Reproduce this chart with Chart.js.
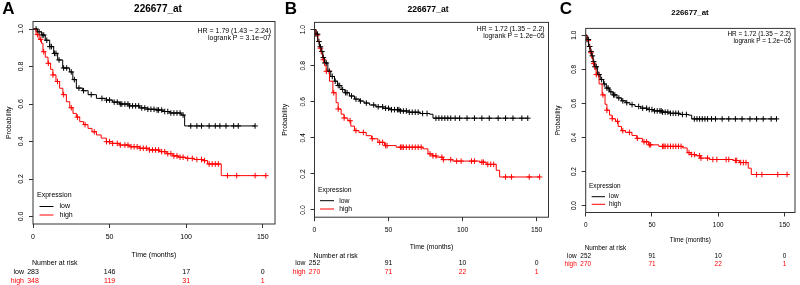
<!DOCTYPE html>
<html lang="en">
<head>
    <meta charset="UTF-8">
    <title>226677_at survival</title>
    <script src="https://cdn.jsdelivr.net/npm/chart.js"></script>
    <style>
        body { margin: 0; background: #fff; }
        #wrap { position: relative; width: 800px; height: 285px; }
        #wrap canvas { position: absolute; left: 0; top: 0; }
    </style>
</head>
<body>
<div id="wrap">
    <canvas id="chartA" width="800" height="285"></canvas>
    <canvas id="chartB" width="800" height="285"></canvas>
    <canvas id="chartC" width="800" height="285"></canvas>
</div>

<script>
    // axis ticks
    var xTicks = [0, 50, 100, 150];
    var yTicks = [0, 0.2, 0.4, 0.6, 0.8, 1.0];

    // panel A - low expression (time in months, survival after the step)
    var timeLowA = [0, 3, 5.5, 8, 10.9, 13.5, 16.1, 19.4, 23.9, 26, 28.3, 32.4, 36, 41.4, 47.9, 52, 56.6, 63, 69.6, 75, 80.5, 85, 89.3, 96.8, 99, 145];
    var survLowA = [1.0, 0.985, 0.968, 0.94, 0.906, 0.87, 0.835, 0.792, 0.771, 0.73, 0.685, 0.671, 0.65, 0.63, 0.621, 0.61, 0.6, 0.59, 0.579, 0.572, 0.568, 0.56, 0.552, 0.541, 0.483, 0.483];
    var censLowA = [2, 4, 6, 7, 9, 11, 12, 14, 15, 17, 20, 22, 25, 27, 30, 33, 38, 45, 48, 50, 53, 55, 57, 58, 60, 62, 63, 65, 67, 69, 71, 73, 75, 77, 79, 81, 82, 84, 86, 88, 90, 92, 94, 96, 98, 103, 107, 110, 115, 119, 122, 126, 131, 134, 145];

    // panel A - high expression
    var timeHighA = [0, 2, 4, 5.5, 6.5, 8, 9.8, 11.5, 13, 15, 17.4, 19.5, 21.8, 24, 26.1, 28.3, 30.5, 33, 35.9, 38.5, 41.4, 44.5, 47.9, 52, 56.6, 63, 69.6, 76, 82.6, 87, 91.3, 95, 100, 105, 110.9, 114, 122.9, 152];
    var survHighA = [1.0, 0.97, 0.945, 0.924, 0.879, 0.85, 0.817, 0.785, 0.755, 0.72, 0.684, 0.65, 0.612, 0.58, 0.55, 0.53, 0.506, 0.49, 0.47, 0.452, 0.435, 0.418, 0.399, 0.39, 0.381, 0.372, 0.364, 0.355, 0.346, 0.335, 0.323, 0.316, 0.31, 0.304, 0.298, 0.28, 0.218, 0.218];
    var censHighA = [3, 5, 7, 10, 13, 16, 20, 25, 29, 34, 40, 48, 50, 52, 55, 57, 60, 62, 64, 66, 68, 70, 72, 74, 76, 78, 80, 82, 84, 86, 88, 90, 92, 94, 96, 98, 101, 104, 107, 110, 112, 115, 117, 119, 121, 127, 133, 145, 152];

    // panels B and C share the same cohort
    var timeLowB = [0, 1, 2.2, 3.3, 4.5, 5.6, 6.8, 9, 11, 13.5, 15.5, 18, 20.5, 23.6, 27, 30.4, 33.5, 37.2, 41.5, 46.2, 51, 57.4, 64, 71, 77.7, 80, 144];
    var survLowB = [1.0, 0.975, 0.934, 0.905, 0.879, 0.845, 0.815, 0.769, 0.74, 0.714, 0.69, 0.668, 0.65, 0.632, 0.615, 0.604, 0.593, 0.582, 0.572, 0.564, 0.556, 0.549, 0.542, 0.535, 0.531, 0.509, 0.509];
    var censLowB = [1, 2, 3, 4, 5, 6, 7, 8, 10, 12, 14, 16, 17, 19, 21, 22, 25, 28, 31, 35, 40, 43, 46, 48, 50, 52, 54, 56, 57, 58, 60, 62, 64, 66, 68, 70, 73, 76, 82, 84, 86, 88, 90, 92, 95, 98, 103, 108, 113, 118, 124, 129, 134, 140, 144];

    var timeHighB = [0, 1.1, 2.2, 3.4, 4.5, 5.6, 6.8, 7.9, 10.1, 12.4, 14.6, 16, 18, 20, 22.5, 24.5, 27, 30, 34.9, 38.5, 42.8, 47.3, 55.2, 73.2, 76.6, 79.5, 82.2, 86.7, 93.4, 111.5, 116, 122.7, 125, 152];
    var survHighB = [1.0, 0.97, 0.935, 0.897, 0.865, 0.833, 0.8, 0.769, 0.714, 0.65, 0.595, 0.56, 0.531, 0.51, 0.495, 0.465, 0.44, 0.43, 0.412, 0.395, 0.375, 0.357, 0.348, 0.339, 0.311, 0.3, 0.293, 0.279, 0.271, 0.265, 0.253, 0.22, 0.183, 0.183];
    var censHighB = [2, 4, 6, 8, 10, 13, 16, 20, 24, 28, 33, 39, 44, 46, 48, 49, 58, 59, 60, 62, 64, 66, 68, 70, 72, 78, 80, 82, 86, 87, 92, 96, 99, 106, 108, 113, 114, 117, 119, 121, 129, 133, 145, 152];

    // number at risk at 0, 50, 100, 150 months
    var riskLowA = [283, 146, 17, 0];
    var riskHighA = [348, 119, 31, 1];
    var riskLowB = [252, 91, 10, 0];
    var riskHighB = [270, 71, 22, 1];

    var hrA = ['HR = 1.79 (1.43 \u2212 2.24)', 'logrank P = 3.1e\u221207'];
    var hrB = ['HR = 1.72 (1.35 \u2212 2.2)', 'logrank P = 1.2e\u221205'];

    var FONT = '"Liberation Sans", Arial, Helvetica, sans-serif';
    var RED = '#ff0000';
    var AXIS_ROOM = 20; // room given to each axis box (labels are clipped to it)

    function stepPoints(times, surv) {
        return times.map(function (t, i) { return { x: t, y: surv[i] }; });
    }

    // censor marks sit on the curve: take the level of the last step at or before t
    function censorPoints(cens, times, surv) {
        return cens.map(function (t) {
            var k = 0;
            for (var i = 0; i < times.length; i++) {
                if (times[i] <= t) k = i;
            }
            return { x: t, y: surv[k] };
        });
    }

    // text around each panel (title, HR, legend, risk table)
    function textPlugin(p) {
        return {
            id: 'panelText',
            afterDraw: function (chart) {
                var ctx = chart.ctx;
                var a = chart.chartArea;
                var xs = chart.scales.x;
                ctx.save();

                // plot box
                ctx.strokeStyle = '#333';
                ctx.lineWidth = 1;
                ctx.strokeRect(a.left, a.top, a.right - a.left, a.bottom - a.top);

                ctx.fillStyle = '#000';
                ctx.textBaseline = 'middle';

                // panel letter
                ctx.textAlign = 'center';
                ctx.font = 'bold 17px ' + FONT;
                ctx.fillText(p.letter, p.letterX, p.letterY);

                // title
                ctx.font = 'bold ' + p.titleSize + 'px ' + FONT;
                ctx.fillText('226677_at', p.titleX, p.titleY);

                ctx.font = p.fs + 'px ' + FONT;

                // hazard ratio
                ctx.textAlign = 'right';
                ctx.fillText(p.hr[0], a.right - 4, p.hrY[0]);
                ctx.fillText(p.hr[1], a.right - 4, p.hrY[1]);

                // y title
                ctx.save();
                ctx.translate(p.probX, (a.top + a.bottom) / 2);
                ctx.rotate(-Math.PI / 2);
                ctx.textAlign = 'center';
                ctx.fillText('Probability', 0, 0);
                ctx.restore();

                // expression legend
                ctx.textAlign = 'left';
                ctx.fillText('Expression', p.legX, p.legY);
                ctx.fillText('low', p.legTextX, p.legLowY);
                ctx.fillText('high', p.legTextX, p.legHighY);
                ctx.lineWidth = 1;
                ctx.strokeStyle = '#000';
                ctx.beginPath();
                ctx.moveTo(p.legLine[0], p.legLowY);
                ctx.lineTo(p.legLine[1], p.legLowY);
                ctx.stroke();
                ctx.strokeStyle = RED;
                ctx.beginPath();
                ctx.moveTo(p.legLine[0], p.legHighY);
                ctx.lineTo(p.legLine[1], p.legHighY);
                ctx.stroke();

                // x title
                ctx.textAlign = 'center';
                ctx.fillText('Time (months)', (a.left + a.right) / 2, p.timeY);

                // number at risk
                var x0 = xs.getPixelForValue(0);
                ctx.textAlign = 'left';
                ctx.fillText('Number at risk', x0 - 1, p.narY);
                ctx.textAlign = 'right';
                ctx.fillText('low', x0 - 9, p.lowY);
                ctx.fillStyle = RED;
                ctx.fillText('high', x0 - 9, p.highY);
                ctx.textAlign = 'center';
                for (var i = 0; i < xTicks.length; i++) {
                    var px = xs.getPixelForValue(xTicks[i]);
                    ctx.fillStyle = '#000';
                    ctx.fillText(String(p.riskLow[i]), px, p.lowY);
                    ctx.fillStyle = RED;
                    ctx.fillText(String(p.riskHigh[i]), px, p.highY);
                }
                ctx.restore();
            }
        };
    }

    function makePanel(id, p) {
        var ctx = document.getElementById(id).getContext('2d');
        return new Chart(ctx, {
            type: 'scatter',
            data: {
                datasets: [
                    {
                        label: 'low',
                        data: stepPoints(p.low[0], p.low[1]),
                        showLine: true,
                        stepped: true,
                        borderColor: '#000',
                        borderWidth: 1,
                        pointRadius: 0
                    },
                    {
                        label: 'high',
                        data: stepPoints(p.high[0], p.high[1]),
                        showLine: true,
                        stepped: true,
                        borderColor: RED,
                        borderWidth: 1,
                        pointRadius: 0
                    },
                    {
                        label: 'low censored',
                        data: censorPoints(p.low[2], p.low[0], p.low[1]),
                        showLine: false,
                        pointStyle: 'cross',
                        pointRadius: 2.8,
                        borderColor: '#000',
                        borderWidth: 1
                    },
                    {
                        label: 'high censored',
                        data: censorPoints(p.high[2], p.high[0], p.high[1]),
                        showLine: false,
                        pointStyle: 'cross',
                        pointRadius: 2.8,
                        borderColor: RED,
                        borderWidth: 1
                    }
                ]
            },
            options: {
                responsive: false,
                animation: false,
                layout: {
                    padding: {
                        left: p.left - AXIS_ROOM,
                        top: p.top,
                        right: 800 - p.right,
                        bottom: 285 - p.bottom - AXIS_ROOM
                    }
                },
                plugins: {
                    legend: { display: false },
                    tooltip: { enabled: false }
                },
                scales: {
                    x: {
                        type: 'linear',
                        min: 0,
                        max: 158,
                        afterFit: function (s) { s.height = AXIS_ROOM; },
                        afterBuildTicks: function (s) { s.ticks = xTicks.map(function (v) { return { value: v }; }); },
                        ticks: { color: '#000', font: { family: FONT, size: p.fs }, padding: p.xPad, maxRotation: 0, autoSkip: false },
                        grid: { drawOnChartArea: false, tickLength: 4, color: '#333' },
                        border: { display: false }
                    },
                    y: {
                        type: 'linear',
                        min: -0.04,
                        max: 1.04,
                        afterFit: function (s) { s.width = AXIS_ROOM; },
                        afterBuildTicks: function (s) { s.ticks = yTicks.map(function (v) { return { value: v }; }); },
                        ticks: {
                            color: '#000',
                            font: { family: FONT, size: p.fs },
                            minRotation: 90,
                            maxRotation: 90,
                            crossAlign: 'center',
                            padding: 3,
                            callback: function (v) { return v.toFixed(1); }
                        },
                        grid: { drawOnChartArea: false, tickLength: 4, color: '#333' },
                        border: { display: false }
                    }
                }
            },
            plugins: [textPlugin(p)]
        });
    }

    makePanel('chartA', {
        left: 33, top: 21.5, right: 275, bottom: 224, fs: 7, xPad: 5,
        letter: 'A', letterX: 8.5, letterY: 9.5,
        titleX: 158, titleY: 9, titleSize: 10,
        hr: hrA, hrY: [31, 38], probX: 9,
        legX: 37, legY: 195, legLine: [39.5, 53.5], legTextX: 59.5, legLowY: 206.5, legHighY: 215,
        timeY: 255, narY: 263, lowY: 272, highY: 281,
        riskLow: riskLowA, riskHigh: riskHighA,
        low: [timeLowA, survLowA, censLowA],
        high: [timeHighA, survHighA, censHighA]
    });

    makePanel('chartB', {
        left: 314.5, top: 22.4, right: 548.5, bottom: 217.2, fs: 6.8, xPad: 5,
        letter: 'B', letterX: 291, letterY: 9.5,
        titleX: 428, titleY: 10, titleSize: 8.6,
        hr: hrB, hrY: [29.5, 36], probX: 285,
        legX: 318, legY: 190, legLine: [320, 334], legTextX: 339.3, legLowY: 200.7, legHighY: 209,
        timeY: 246.7, narY: 255.7, lowY: 263.3, highY: 271.7,
        riskLow: riskLowB, riskHigh: riskHighB,
        low: [timeLowB, survLowB, censLowB],
        high: [timeHighB, survHighB, censHighB]
    });

    makePanel('chartC', {
        left: 585.7, top: 28.4, right: 799, bottom: 212.5, fs: 6.4, xPad: 4.5,
        letter: 'C', letterX: 566, letterY: 9.5,
        titleX: 690, titleY: 13, titleSize: 7.8,
        hr: hrB, hrY: [34.5, 40.8], probX: 558,
        legX: 589, legY: 186.7, legLine: [591.7, 605], legTextX: 609, legLowY: 196.7, legHighY: 204.3,
        timeY: 240, narY: 248, lowY: 256, highY: 264,
        riskLow: riskLowB, riskHigh: riskHighB,
        low: [timeLowB, survLowB, censLowB],
        high: [timeHighB, survHighB, censHighB]
    });
</script>
</body>
</html>
